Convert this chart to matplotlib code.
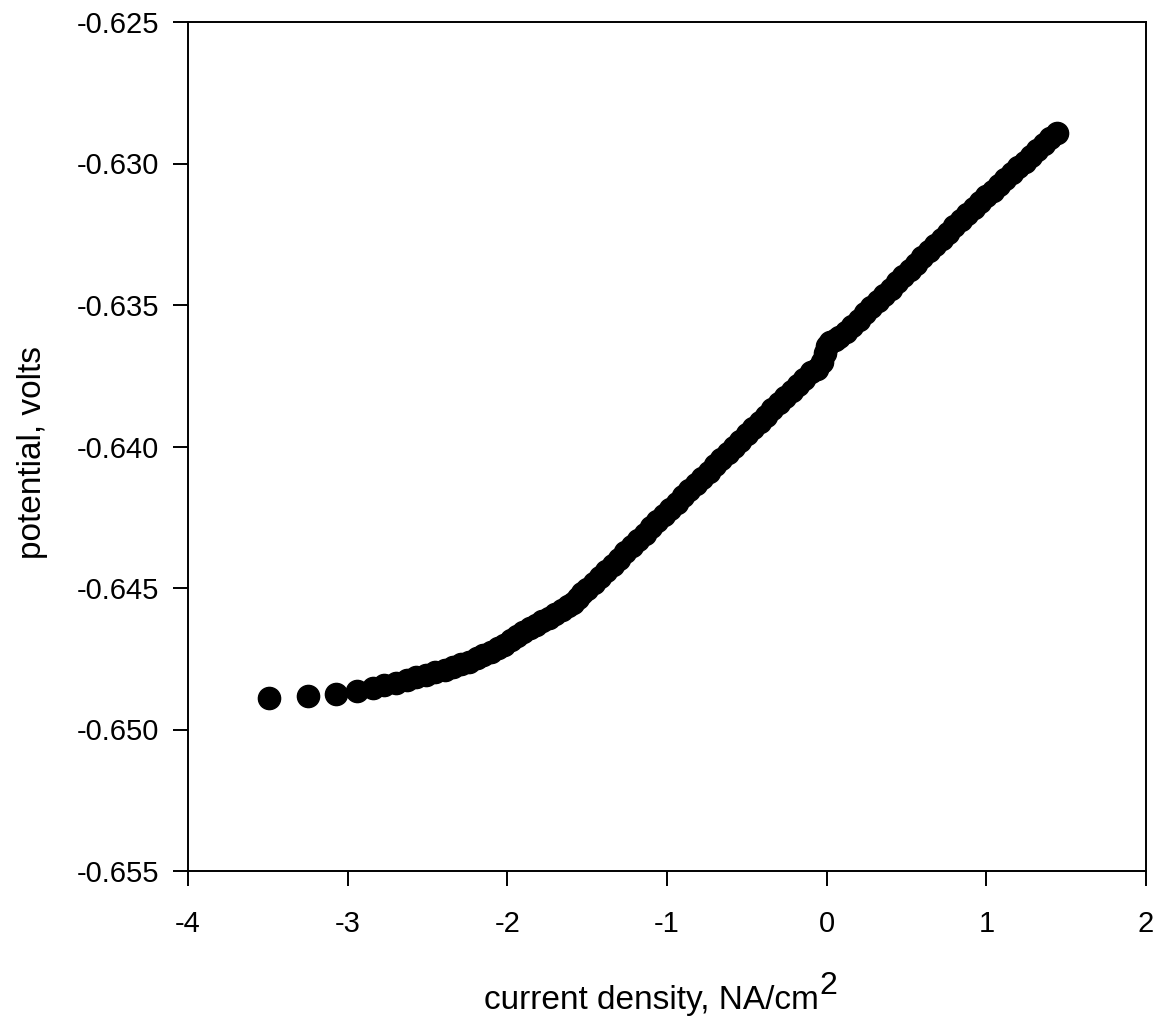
import matplotlib
matplotlib.use('Agg')
import matplotlib.pyplot as plt
from matplotlib.ticker import FormatStrFormatter

# current density (NA/cm2) vs potential (V)
current_density = [
    -3.49, -3.25, -3.07, -2.94, -2.84, -2.77, -2.70, -2.63, -2.57, -2.51,
    -2.45, -2.39, -2.34, -2.29, -2.24, -2.19, -2.15, -2.10, -2.06, -2.02,
    -1.98, -1.94, -1.90, -1.86, -1.82, -1.78, -1.74, -1.70, -1.66, -1.62,
    -1.59, -1.56, -1.53, -1.50,
    -1.46, -1.42, -1.38, -1.34, -1.30, -1.26, -1.22, -1.18, -1.14, -1.10,
    -1.06, -1.02, -0.98, -0.94, -0.90, -0.86, -0.82, -0.78, -0.74, -0.70,
    -0.66, -0.62, -0.58, -0.54, -0.50, -0.46, -0.42, -0.38, -0.34, -0.30,
    -0.26, -0.22, -0.18, -0.14, -0.10, -0.06, -0.03, -0.01,
    0.00, 0.02, 0.05, 0.08, 0.12, 0.16, 0.20, 0.24, 0.28, 0.32,
    0.36, 0.40, 0.44, 0.48, 0.52, 0.56, 0.60, 0.64, 0.68, 0.72,
    0.76, 0.80, 0.84, 0.88, 0.92, 0.96, 1.00, 1.04, 1.08, 1.12,
    1.16, 1.20, 1.24, 1.28, 1.32, 1.36, 1.40, 1.44,
]
potential = [
    -0.64889, -0.64882, -0.64873, -0.64864, -0.64853, -0.64843, -0.64834, -0.64825, -0.64815, -0.64806,
    -0.64797, -0.64788, -0.64779, -0.64770, -0.64760, -0.64749, -0.64738, -0.64726, -0.64713, -0.64700,
    -0.64684, -0.64670, -0.64656, -0.64643, -0.64630, -0.64617, -0.64605, -0.64592, -0.64579, -0.64565,
    -0.64553, -0.64535, -0.64517, -0.64502,
    -0.64484, -0.64462, -0.64440, -0.64418, -0.64396, -0.64374, -0.64352, -0.64330, -0.64308, -0.64286,
    -0.64264, -0.64242, -0.64220, -0.64198, -0.64176, -0.64155, -0.64133, -0.64111, -0.64089, -0.64067,
    -0.64045, -0.64023, -0.64001, -0.63979, -0.63957, -0.63935, -0.63913, -0.63891, -0.63869, -0.63847,
    -0.63826, -0.63804, -0.63782, -0.63760, -0.63738, -0.63725, -0.63700, -0.63670,
    -0.63645, -0.63632, -0.63622, -0.63614, -0.63595, -0.63573, -0.63552, -0.63530, -0.63508, -0.63486,
    -0.63464, -0.63442, -0.63420, -0.63398, -0.63376, -0.63354, -0.63332, -0.63310, -0.63288, -0.63266,
    -0.63244, -0.63222, -0.63200, -0.63179, -0.63157, -0.63137, -0.63116, -0.63096, -0.63075, -0.63054,
    -0.63034, -0.63013, -0.62993, -0.62972, -0.62952, -0.62931, -0.62911, -0.62892,
]

x_ticks = [-4, -3, -2, -1, 0, 1, 2]
y_ticks = [-0.655, -0.650, -0.645, -0.640, -0.635, -0.630, -0.625]

plt.rcParams['font.family'] = ['Liberation Sans', 'DejaVu Sans']
plt.rcParams['axes.unicode_minus'] = False

fig = plt.figure(figsize=(11.61, 10.24), dpi=100)
ax = fig.add_axes([188 / 1161, 1 - 871 / 1024, (1146 - 188) / 1161, (871 - 22) / 1024])

ax.plot(current_density, potential, 'o', color='black', markersize=16, linestyle='none')

ax.set_xlim(-4, 2)
ax.set_ylim(-0.655, -0.625)
ax.set_xticks(x_ticks)
ax.set_yticks(y_ticks)
ax.yaxis.set_major_formatter(FormatStrFormatter('%.3f'))
ax.tick_params(direction='out', length=11, width=1.4, labelsize=21)
ax.tick_params(axis='y', pad=10)
ax.tick_params(axis='x', pad=17)
for s in ax.spines.values():
    s.set_linewidth(1.4)

# superscript 2 is full size in the original, so draw it as its own text
xlab = ax.set_xlabel('current density, NA/cm', fontsize=24)
ax.xaxis.set_label_coords(0.4833, -0.134)
ax.annotate('2', xy=(1, 0), xycoords=xlab, xytext=(1, 16), textcoords='offset points',
            fontsize=23, ha='left', va='baseline')

ax.set_ylabel('potential, volts', fontsize=24)
ax.yaxis.set_label_coords(-0.146, 0.4935)

fig.savefig('out.png', dpi=100)
